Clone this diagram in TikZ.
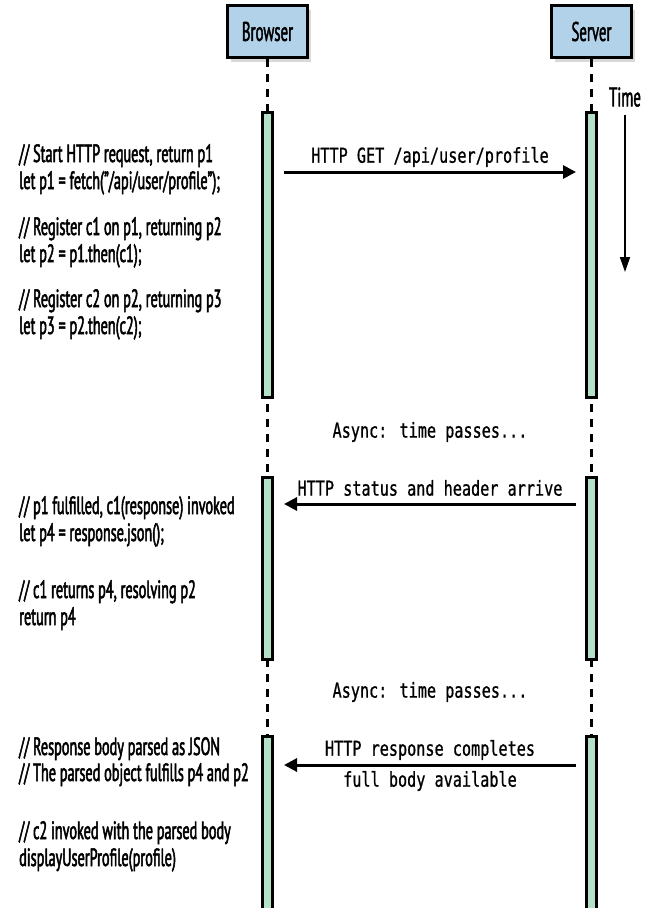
\documentclass[tikz,border=0pt]{standalone}
\usepackage{fontspec}
\setmainfont{PT Sans}[FakeStretch=0.57,FakeBold=2]
\newfontfamily\labelfont{PT Sans}[FakeStretch=0.55,FakeBold=1.5]
\newfontfamily\codefont{DejaVu Sans Mono}[FakeStretch=0.74,FakeBold=0.8]
\usetikzlibrary{shadows,arrows.meta}
\definecolor{boxblue}{RGB}{178,210,233}
\definecolor{bargreen}{RGB}{180,224,200}
\begin{document}
\begin{tikzpicture}[x=1pt,y=-1pt,
 actor/.style={draw,line width=3pt,fill=boxblue,minimum width=80pt,minimum height=52pt,inner sep=0pt,
   drop shadow={opacity=0.3,shadow xshift=3pt,shadow yshift=-4pt},font=\labelfont\fontsize{27}{28}\selectfont},
 bar/.style={draw,line width=3pt,fill=bargreen,minimum width=10pt,inner sep=0pt},
 life/.style={line width=2.5pt,dash pattern=on 8pt off 7pt},
 msg/.style={line width=3pt,-{Triangle[length=13pt,width=13pt]}},
 note/.style={anchor=base west,inner sep=0pt,font=\fontsize{25}{27}\selectfont},
 code/.style={inner sep=0pt,font=\codefont\fontsize{20.5}{31}\selectfont},
]
\useasboundingbox (0,0) rectangle (672,908);
% actors
\node[actor] (br) at (267.5,31.5) {Browser};
\node[actor] (sv) at (591.5,31.5) {Server};
% lifelines
\coordinate (bend) at (267.5,915);
\coordinate (send) at (591.5,915);
\draw[life] (br.south) -- (br.south |- bend);
\draw[life] (sv.south) -- (sv.south |- send);
% activation bars
\node[bar,minimum height=285pt] (b1) at (267.5,254.5) {};
\node[bar,minimum height=182pt] (b2) at (267.5,568) {};
\node[bar,minimum height=194pt] (b3) at (267.5,833) {};
\node[bar,minimum height=285pt] (s1) at (591.5,254.5) {};
\node[bar,minimum height=182pt] (s2) at (591.5,568) {};
\node[bar,minimum height=194pt] (s3) at (591.5,833) {};
% time arrow
\node[inner sep=0pt,font=\labelfont\fontsize{27}{28}\selectfont] (time) at (625,97) {Time};
\coordinate (tend) at (625,272);
\draw[line width=1.8pt,-{Triangle[length=15pt,width=10pt]}] ([yshift=-8pt]time.south) -- (tend);
% message rows
\coordinate (r1) at (0,172);
\coordinate (r2) at (0,504);
\coordinate (r3) at (0,765);
\draw[msg,shorten <=10pt,shorten >=9pt] (b1.east |- r1) -- (s1.west |- r1);
\draw[msg,shorten <=9pt,shorten >=10pt] (s2.west |- r2) -- (b2.east |- r2);
\draw[msg,shorten <=9pt,shorten >=10pt] (s3.west |- r3) -- (b3.east |- r3);
\node[code] (l1) at (430,157) {HTTP GET /api/user/profile};
\node[code] (l2) at (430,488) {HTTP status and header arrive};
\node[code] (l3a) at (430,750) {HTTP response completes};
\node[code] (l3b) at (430,781) {full body available};
\node[code] (a1) at (430,432) {Async: time passes...};
\node[code] (a2) at (430,692) {Async: time passes...};
% notes
\node[note] (n1a) at (19,162) {// Start HTTP request, return p1};
\node[note] (n1b) at (19,189) {let p1 = fetch("/api/user/profile");};
\node[note] (n2a) at (19,235) {// Register c1 on p1, returning p2};
\node[note] (n2b) at (19,262) {let p2 = p1.then(c1);};
\node[note] (n3a) at (19,307) {// Register c2 on p2, returning p3};
\node[note] (n3b) at (19,334) {let p3 = p2.then(c2);};
\node[note] (n4a) at (19,514) {// p1 fulfilled, c1(response) invoked};
\node[note] (n4b) at (19,541) {let p4 = response.json();};
\node[note] (n5a) at (19,598) {// c1 returns p4, resolving p2};
\node[note] (n5b) at (19,625) {return p4};
\node[note] (n6a) at (19,755) {// Response body parsed as JSON};
\node[note] (n6b) at (19,781) {// The parsed object fulfills p4 and p2};
\node[note] (n7a) at (19,839) {// c2 invoked with the parsed body};
\node[note] (n7b) at (19,866) {displayUserProfile(profile)};
\end{tikzpicture}
\end{document}
